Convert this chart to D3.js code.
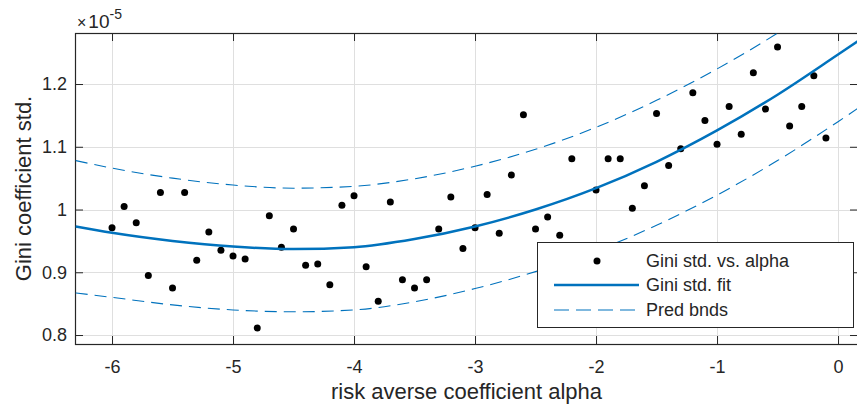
<!DOCTYPE html>
<head>
    <meta charset="utf-8">
    <style>
        body { margin: 0; background: #fff; }
        text { font-family: "Liberation Sans", Arial, sans-serif; fill: #262626; }
    </style>
</head>
<body>
<div id="chart"></div>
<script src="https://d3js.org/d3.v7.min.js"></script>
<script>
// risk averse coefficient alpha (x) for each observation
var alpha = [-6.0, -5.9, -5.8, -5.7, -5.6, -5.5, -5.4, -5.3, -5.2, -5.1,
             -5.0, -4.9, -4.8, -4.7, -4.6, -4.5, -4.4, -4.3, -4.2, -4.1,
             -4.0, -3.9, -3.8, -3.7, -3.6, -3.5, -3.4, -3.3, -3.2, -3.1,
             -3.0, -2.9, -2.8, -2.7, -2.6, -2.5, -2.4, -2.3, -2.2, -2.1,
             -2.0, -1.9, -1.8, -1.7, -1.6, -1.5, -1.4, -1.3, -1.2, -1.1,
             -1.0, -0.9, -0.8, -0.7, -0.6, -0.5, -0.4, -0.3, -0.2, -0.1];
// Gini std. (x 1e-5)
var giniStd = [0.971, 1.005, 0.979, 0.895, 1.027, 0.875, 1.027, 0.919, 0.964, 0.935,
               0.926, 0.921, 0.811, 0.990, 0.940, 0.969, 0.911, 0.913, 0.880, 1.007,
               1.022, 0.909, 0.854, 1.012, 0.888, 0.875, 0.888, 0.969, 1.020, 0.938,
               0.971, 1.024, 0.962, 1.055, 1.151, 0.969, 0.988, 0.959, 1.081, 0.900,
               1.031, 1.081, 1.081, 1.002, 1.038, 1.153, 1.070, 1.097, 1.186, 1.142,
               1.104, 1.164, 1.120, 1.218, 1.160, 1.259, 1.133, 1.164, 1.213, 1.114];

// fit + prediction bounds
var curveAlpha = [-6.3, -6.0, -5.5, -5.0, -4.5, -4.0, -3.5, -3.0, -2.5, -2.0, -1.5, -1.0, -0.5, 0.0, 0.17];
var fitVals   = [0.973, 0.963, 0.950, 0.941, 0.937, 0.940, 0.953, 0.973, 1.000, 1.034, 1.076, 1.126, 1.183, 1.247, 1.269];
var upperVals = [1.078, 1.066, 1.050, 1.039, 1.034, 1.037, 1.049, 1.069, 1.096, 1.131, 1.174, 1.224, 1.281, 1.345, 1.368];
var lowerVals = [0.867, 0.860, 0.848, 0.840, 0.837, 0.840, 0.853, 0.874, 0.901, 0.934, 0.975, 1.023, 1.078, 1.140, 1.162];

var xTicks = [-6, -5, -4, -3, -2, -1, 0];
var yTicks = [0.8, 0.9, 1.0, 1.1, 1.2];

var W = 857, H = 410;
var pLeft = 75, pRight = 858, pTop = 33, pBottom = 344;
var blue = "#0072BD", axisCol = "#262626";

var svg = d3.select("#chart").append("svg")
    .attr("width", W).attr("height", H);

var x = d3.scaleLinear().domain([-6.306, 0.165]).range([pLeft, pRight]);
var y = d3.scaleLinear().domain([0.7857, 1.2813]).range([pBottom, pTop]);

svg.append("clipPath").attr("id", "clip")
    .append("rect").attr("x", pLeft).attr("y", pTop)
    .attr("width", pRight - pLeft).attr("height", pBottom - pTop);

// grid
var grid = svg.append("g").attr("stroke", "#dfdfdf").attr("stroke-width", 1);
grid.selectAll(".gx").data(xTicks).enter().append("line")
    .attr("x1", d => Math.round(x(d)) + 0.5).attr("x2", d => Math.round(x(d)) + 0.5)
    .attr("y1", pTop).attr("y2", pBottom);
grid.selectAll(".gy").data(yTicks).enter().append("line")
    .attr("y1", d => Math.round(y(d)) + 0.5).attr("y2", d => Math.round(y(d)) + 0.5)
    .attr("x1", pLeft).attr("x2", pRight);

// axes, ticks pointing inward on all four sides
function styleAxis(g) {
    g.select(".domain").remove();
    g.selectAll(".tick line").attr("stroke", axisCol);
    g.selectAll(".tick text").attr("fill", axisCol).style("font-size", "18px")
        .style("font-family", "'Liberation Sans', Arial, sans-serif");
}
svg.append("g").attr("transform", "translate(0," + pBottom + ")")
    .call(d3.axisBottom(x).tickValues(xTicks).tickSize(-8).tickPadding(16).tickFormat(d => String(d)))
    .call(styleAxis);
svg.append("g").attr("transform", "translate(0," + pTop + ")")
    .call(d3.axisTop(x).tickValues(xTicks).tickSize(-8).tickFormat(""))
    .call(styleAxis);
svg.append("g").attr("transform", "translate(" + pLeft + ",0)")
    .call(d3.axisLeft(y).tickValues(yTicks).tickSize(-8).tickPadding(8).tickFormat(d => d === 1 ? "1" : d3.format(".1f")(d)))
    .call(styleAxis);
svg.append("g").attr("transform", "translate(" + pRight + ",0)")
    .call(d3.axisRight(y).tickValues(yTicks).tickSize(-8).tickFormat(""))
    .call(styleAxis);

svg.append("rect").attr("x", pLeft + 0.5).attr("y", pTop + 0.5)
    .attr("width", pRight - pLeft).attr("height", pBottom - pTop)
    .attr("fill", "none").attr("stroke", axisCol).attr("stroke-width", 1.2);

// curves
var plot = svg.append("g").attr("clip-path", "url(#clip)");
function lineOf(vals) {
    return d3.line().curve(d3.curveMonotoneX)
        .x((d, i) => x(curveAlpha[i])).y(d => y(d))(vals);
}
plot.append("path").attr("d", lineOf(upperVals))
    .attr("fill", "none").attr("stroke", blue).attr("stroke-width", 1.1).attr("stroke-dasharray", "12,7");
plot.append("path").attr("d", lineOf(lowerVals))
    .attr("fill", "none").attr("stroke", blue).attr("stroke-width", 1.1).attr("stroke-dasharray", "12,7");

plot.selectAll(".pt").data(giniStd).enter().append("circle")
    .attr("cx", (d, i) => x(alpha[i])).attr("cy", d => y(d))
    .attr("r", 3.5).attr("fill", "#000");

plot.append("path").attr("d", lineOf(fitVals))
    .attr("fill", "none").attr("stroke", blue).attr("stroke-width", 2.5);

// exponent label
var ex = svg.append("text").attr("x", 77).attr("y", 28).style("font-size", "19px");
ex.append("tspan").text("\u00d7").style("font-size", "16px");
ex.append("tspan").text("10").attr("dx", 2);
ex.append("tspan").text("-5").attr("dy", -9).style("font-size", "14px");

// axis labels
svg.append("text").attr("x", (pLeft + pRight) / 2).attr("y", 399)
    .attr("text-anchor", "middle").style("font-size", "22px")
    .text("risk averse coefficient alpha");
svg.append("text").attr("transform", "translate(31," + ((pTop + pBottom) / 2) + ") rotate(-90)")
    .attr("text-anchor", "middle").style("font-size", "22px")
    .text("Gini coefficient std.");

// legend
var lg = svg.append("g");
lg.append("rect").attr("x", 537.5).attr("y", 242.5).attr("width", 316).attr("height", 85)
    .attr("fill", "#fff").attr("stroke", axisCol).attr("stroke-width", 1);
var legendItems = ["Gini std. vs. alpha", "Gini std. fit", "Pred bnds"];
var ly = [261, 285, 310];
lg.append("circle").attr("cx", 597).attr("cy", ly[0]).attr("r", 3.5).attr("fill", "#000");
lg.append("line").attr("x1", 554).attr("x2", 639).attr("y1", ly[1]).attr("y2", ly[1])
    .attr("stroke", blue).attr("stroke-width", 2.5);
lg.append("line").attr("x1", 554).attr("x2", 639).attr("y1", ly[2]).attr("y2", ly[2])
    .attr("stroke", blue).attr("stroke-width", 1.1).attr("stroke-dasharray", "15,7");
lg.selectAll(".lt").data(legendItems).enter().append("text")
    .attr("x", 646).attr("y", (d, i) => ly[i]).attr("dy", "0.35em")
    .style("font-size", "18px").text(d => d);
</script>
</body>
